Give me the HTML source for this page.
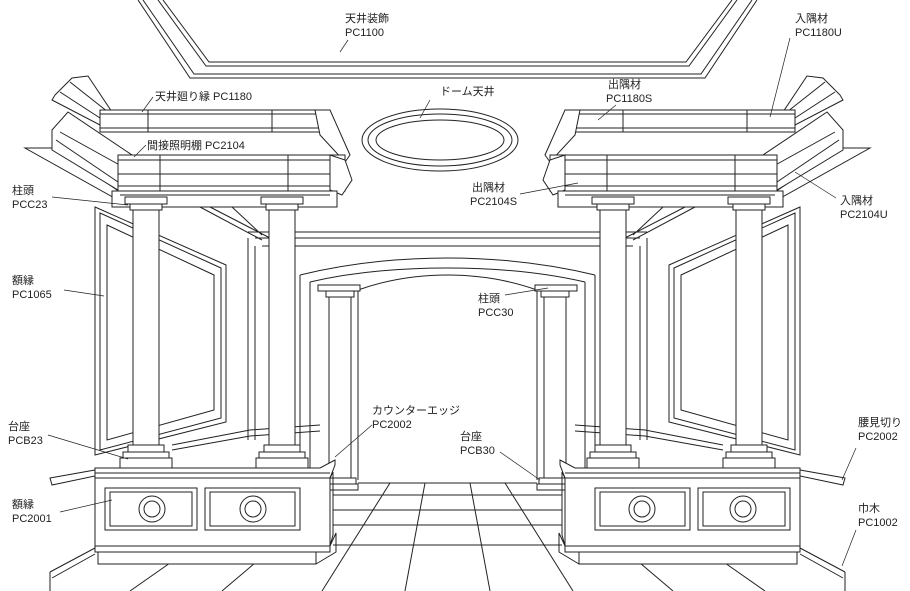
<!DOCTYPE html>
<html><head><meta charset="utf-8"><style>
html,body{margin:0;padding:0;background:#fff;width:910px;height:591px;overflow:hidden}
text{font-family:"Liberation Sans","Noto Sans CJK JP",sans-serif;font-size:11px;fill:#222}
</style></head><body>
<svg width="910" height="591" viewBox="0 0 910 591" xmlns="http://www.w3.org/2000/svg">
<defs>
<g id="half" fill="none" stroke="#222" stroke-width="1">
<!-- ceiling frame -->
<polyline points="138,0 190,78 448,78"/>
<polyline points="143,0 194,74 448,74"/>
<polyline points="158,0 206,66 448,66"/>
<polyline points="163,0 209,62 448,62"/>
<!-- upper cornice -->
<path d="M55,95 L72,78 L88,76 L112,112 L100,125 L52,100 Z" fill="#fff"/>
<path d="M60,92 L100,118 M70,82 L108,112"/>
<rect x="100" y="110" width="230" height="22" fill="#fff"/>
<line x1="100" y1="114" x2="330" y2="114"/><line x1="100" y1="128" x2="330" y2="128"/>
<line x1="148" y1="110" x2="148" y2="132"/><line x1="272" y1="110" x2="272" y2="132"/>
<path d="M315,110 L330,110 L350,155 L345,162 L320,135 Z" fill="#fff"/>
<!-- plate -->
<polygon points="25,148 55,148 120,192 118,200" fill="#fff"/>
<!-- second cornice -->
<path d="M52,130 L68,112 L132,155 L118,190 L52,150 Z" fill="#fff"/>
<path d="M56,140 L118,182 M60,132 L125,168"/>
<rect x="118" y="155" width="227" height="36" fill="#fff"/>
<line x1="118" y1="160" x2="345" y2="160"/><line x1="118" y1="174" x2="345" y2="174"/><line x1="118" y1="186" x2="345" y2="186"/>
<line x1="160" y1="155" x2="160" y2="191"/><line x1="288" y1="155" x2="288" y2="191"/>
<path d="M330,155 L345,160 L352,180 L342,195 L330,190 Z" fill="#fff"/>
<rect x="112" y="191" width="225" height="16" fill="#fff"/>
<line x1="120" y1="195" x2="330" y2="195"/>
<!-- side wall ceiling diagonals -->
<path d="M200,207 L262,240 M210,207 L270,238 M232,207 L262,235"/>
<line x1="248" y1="232" x2="448" y2="232"/>
<line x1="255" y1="238" x2="448" y2="238"/>
<line x1="262" y1="246" x2="448" y2="246"/>
<line x1="248" y1="238" x2="248" y2="440"/>
<line x1="255" y1="246" x2="255" y2="440"/>
<!-- side frame -->
<polygon points="95,207 226,265 226,422 95,455"/>
<polygon points="100,213 221,268 221,418 100,450"/>
<polygon points="107,225 214,275 214,410 107,440"/>
<!-- back arch -->
<line x1="300" y1="275" x2="300" y2="490"/>
<line x1="310" y1="282" x2="310" y2="490"/>
<path d="M300,275 Q370,258 448,258 M310,282 Q370,268 448,268 M358,290 Q400,275 448,275"/>
<line x1="358" y1="290" x2="358" y2="480"/>
<rect x="318" y="285" width="42" height="6" fill="#fff"/>
<rect x="326" y="291" width="28" height="6" fill="#fff"/>
<rect x="329" y="297" width="22" height="183" fill="#fff"/>
<rect x="326" y="478" width="30" height="6" fill="#fff"/>
<rect x="322" y="484" width="36" height="6" fill="#fff"/>
<!-- floor -->
<line x1="358" y1="483" x2="448" y2="483"/>
<line x1="333" y1="495" x2="448" y2="495"/>
<line x1="333" y1="510" x2="448" y2="510"/>
<line x1="333" y1="525" x2="448" y2="525"/>
<line x1="333" y1="545" x2="448" y2="545"/>
<line x1="390" y1="483" x2="322" y2="591"/>
<line x1="425" y1="483" x2="405" y2="591"/>
<line x1="170" y1="563" x2="130" y2="591"/>
<line x1="255" y1="563" x2="222" y2="591"/>
<!-- chair rail -->
<path d="M172,445 L250,430 L320,425 M172,450 L250,436 L320,431"/>
<path d="M50,478 L95,470 L95,476 L52,485 Z" fill="#fff"/>
<path d="M50,572 L95,548 M52,578 L95,554 M50,572 L50,591"/>
<!-- columns -->
<rect x="125" y="197" width="42" height="7" fill="#fff"/>
<rect x="130" y="204" width="32" height="6" fill="#fff"/>
<rect x="133" y="210" width="26" height="235" fill="#fff"/>
<rect x="128" y="445" width="36" height="7" fill="#fff"/>
<rect x="123" y="452" width="46" height="6" fill="#fff"/>
<rect x="120" y="458" width="52" height="10" fill="#fff"/>
<rect x="261" y="197" width="42" height="7" fill="#fff"/>
<rect x="266" y="204" width="32" height="6" fill="#fff"/>
<rect x="269" y="210" width="26" height="235" fill="#fff"/>
<rect x="264" y="445" width="36" height="7" fill="#fff"/>
<rect x="259" y="452" width="46" height="6" fill="#fff"/>
<rect x="256" y="458" width="52" height="10" fill="#fff"/>
<!-- pedestal -->
<path d="M95,468 L320,468 L335,460 L335,465 L330,478 L95,478 Z" fill="#fff"/>
<line x1="95" y1="473" x2="330" y2="473"/>
<rect x="95" y="478" width="235" height="68" fill="#fff"/>
<path d="M330,478 L333,472 L333,535 L330,546"/>
<rect x="105" y="488" width="92" height="42"/>
<rect x="110" y="492" width="82" height="34"/>
<rect x="205" y="488" width="95" height="42"/>
<rect x="210" y="492" width="85" height="34"/>
<circle cx="152" cy="509" r="13"/><circle cx="152" cy="509" r="8"/>
<circle cx="253" cy="509" r="13"/><circle cx="253" cy="509" r="8"/>
<rect x="95" y="546" width="235" height="6" fill="#fff"/>
<rect x="98" y="552" width="218" height="12" fill="#fff"/>
<path d="M330,546 L336,533 L336,552 L316,564"/>
</g>
</defs>
<use href="#half"/>
<use href="#half" transform="translate(895,0) scale(-1,1)"/>
<!-- dome -->
<ellipse cx="440" cy="140" rx="78" ry="31" fill="none" stroke="#222"/>
<ellipse cx="440" cy="140" rx="72" ry="26" fill="none" stroke="#222"/>
<ellipse cx="440" cy="140" rx="64" ry="20" fill="none" stroke="#222"/>
<!-- leaders -->
<g stroke="#222" stroke-width="0.7" fill="none">
<line x1="348" y1="40" x2="340" y2="52"/>
<line x1="153" y1="97" x2="142" y2="112"/>
<line x1="146" y1="145" x2="134" y2="157"/>
<line x1="52" y1="197" x2="128" y2="205"/>
<line x1="64" y1="290" x2="104" y2="296"/>
<line x1="48" y1="435" x2="128" y2="459"/>
<line x1="60" y1="512" x2="112" y2="500"/>
<line x1="430" y1="100" x2="420" y2="118"/>
<line x1="616" y1="105" x2="598" y2="120"/>
<line x1="790" y1="38" x2="770" y2="117"/>
<line x1="520" y1="194" x2="578" y2="183"/>
<line x1="836" y1="198" x2="795" y2="172"/>
<line x1="505" y1="295" x2="548" y2="288"/>
<line x1="372" y1="425" x2="335" y2="457"/>
<line x1="500" y1="452" x2="540" y2="480"/>
<line x1="856" y1="448" x2="842" y2="480"/>
<line x1="856" y1="530" x2="842" y2="566"/>
</g>
<text x="345" y="22">天井装飾</text><text x="345" y="36">PC1100</text>
<text x="155" y="100">天井廻り縁 PC1180</text>
<text x="147" y="149">間接照明棚 PC2104</text>
<text x="12" y="194">柱頭</text><text x="12" y="208">PCC23</text>
<text x="12" y="284">額縁</text><text x="12" y="298">PC1065</text>
<text x="8" y="430">台座</text><text x="8" y="444">PCB23</text>
<text x="12" y="508">額縁</text><text x="12" y="522">PC2001</text>
<text x="440" y="95">ドーム天井</text>
<text x="608" y="88">出隅材</text><text x="606" y="102">PC1180S</text>
<text x="795" y="22">入隅材</text><text x="795" y="36">PC1180U</text>
<text x="472" y="191">出隅材</text><text x="470" y="205">PC2104S</text>
<text x="840" y="204">入隅材</text><text x="840" y="218">PC2104U</text>
<text x="478" y="302">柱頭</text><text x="478" y="316">PCC30</text>
<text x="372" y="414">カウンターエッジ</text><text x="372" y="428">PC2002</text>
<text x="460" y="440">台座</text><text x="460" y="454">PCB30</text>
<text x="858" y="426">腰見切り</text><text x="858" y="440">PC2002</text>
<text x="858" y="512">巾木</text><text x="858" y="526">PC1002</text>
</svg>
</body></html>
